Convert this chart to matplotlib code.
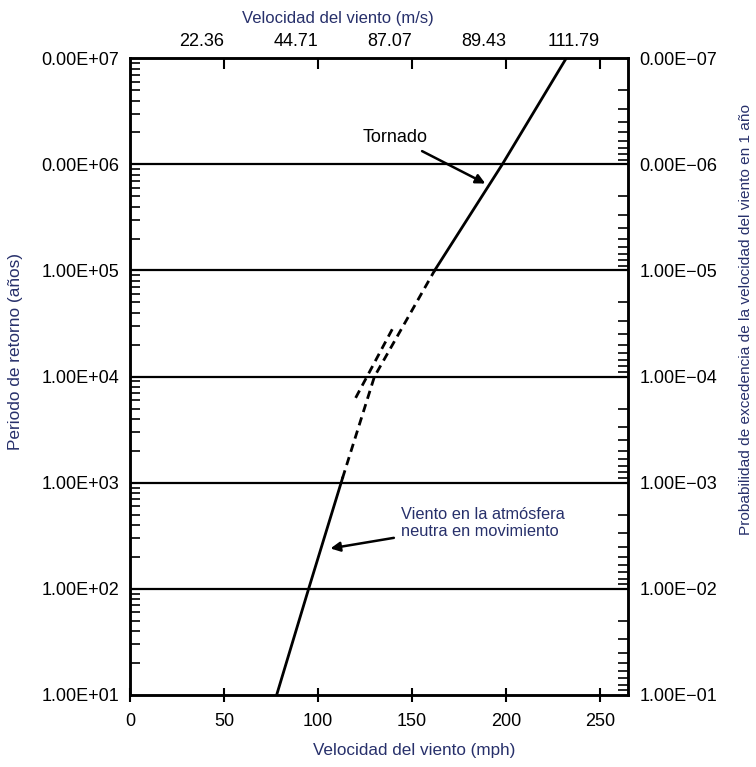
import matplotlib.pyplot as plt
import numpy as np
from matplotlib.ticker import LogLocator, FixedLocator, FixedFormatter, NullFormatter

plt.rcParams['font.family'] = ['Liberation Sans', 'DejaVu Sans']

# wind speed (mph) vs return period (years)
neutral_mph = [78, 95, 113]
neutral_years = [1e1, 1e2, 1.1e3]
trans_mph = [113, 130, 162]
trans_years = [1.1e3, 1e4, 1e5]
branch_mph = [120, 139.5]
branch_years = [6.3e3, 2.8e4]
tornado_mph = [162, 198, 232]
tornado_years = [1e5, 1e6, 1e7]

decades = [1e1, 1e2, 1e3, 1e4, 1e5, 1e6, 1e7]
left_labels = ['1.00E+01', '1.00E+02', '1.00E+03', '1.00E+04',
               '1.00E+05', '0.00E+06', '0.00E+07']
probs = [1e-1, 1e-2, 1e-3, 1e-4, 1e-5, 1e-6, 1e-7]
right_labels = ['1.00E\u221201', '1.00E\u221202', '1.00E\u221203', '1.00E\u221204',
                '1.00E\u221205', '0.00E\u221206', '0.00E\u221207']
mph_ticks = [0, 50, 100, 150, 200, 250]
ms_ticks = [50, 100, 150, 200, 250]
ms_labels = ['22.36', '44.71', '87.07', '89.43', '111.79']

title_color = '#27306b'

fig = plt.figure(figsize=(7.56, 7.67), dpi=100)
ax = fig.add_axes([0.172, 0.094, 0.659, 0.830])

ax.set_yscale('log')
ax.set_xlim(0, 265)
ax.set_ylim(1e1, 1e7)

# horizontal decade lines
for d in decades[1:-1]:
    ax.axhline(d, color='black', lw=1.6)

ax.plot(neutral_mph, neutral_years, color='black', lw=2)
ax.plot(trans_mph, trans_years, color='black', lw=2, linestyle=(0, (3, 2)))
ax.plot(branch_mph, branch_years, color='black', lw=2, linestyle=(0, (3, 2)))
ax.plot(tornado_mph, tornado_years, color='black', lw=2)

ax.annotate('Tornado', xy=(189, 6.6e5), xytext=(141, 1.8e6),
            ha='center', va='center', fontsize=13, color='black',
            arrowprops=dict(arrowstyle='-|>', color='black', lw=1.8,
                            mutation_scale=14, shrinkA=4, shrinkB=0))
ax.annotate('Viento en la atmósfera\nneutra en movimiento', xy=(106.6, 240),
            xytext=(144, 417), ha='left', va='center', fontsize=11.8,
            color=title_color, linespacing=1.15,
            arrowprops=dict(arrowstyle='-|>', color='black', lw=1.8,
                            mutation_scale=14, shrinkA=3, shrinkB=0))

for s in ax.spines.values():
    s.set_linewidth(1.8)

# left axis
ax.yaxis.set_major_locator(FixedLocator(decades))
ax.yaxis.set_major_formatter(FixedFormatter(left_labels))
ax.yaxis.set_minor_locator(LogLocator(base=10, subs=np.arange(2, 10)))
ax.yaxis.set_minor_formatter(NullFormatter())
ax.tick_params(axis='y', which='major', direction='in', length=0, pad=8, labelsize=13)
ax.tick_params(axis='y', which='minor', direction='in', length=7, width=1.2)
ax.set_ylabel('Periodo de retorno (años)', color=title_color, fontsize=12.4)
ax.yaxis.set_label_coords(-0.215, 0.54)

# bottom axis
ax.set_xticks(mph_ticks)
ax.tick_params(axis='x', direction='inout', length=10, width=1.5, pad=8, labelsize=13)
ax.set_xlabel('Velocidad del viento (mph)', color=title_color, fontsize=12.3, labelpad=10)
ax.xaxis.set_label_coords(0.57, -0.075)

# top axis (m/s)
top = ax.secondary_xaxis('top')
top.set_xticks(ms_ticks)
top.set_xticklabels(ms_labels, ha='right')
top.tick_params(direction='in', length=8, width=1.5, pad=6, labelsize=13)
top.set_xlabel('Velocidad del viento (m/s)', color=title_color, fontsize=12)
top.xaxis.set_label_coords(0.418, 1.056, transform=ax.transAxes)

# right axis (exceedance probability)
ax2 = ax.twinx()
ax2.set_yscale('log')
ax2.set_ylim(1e-1, 1e-7)
ax2.yaxis.set_major_locator(FixedLocator(probs))
ax2.yaxis.set_major_formatter(FixedFormatter(right_labels))
ax2.yaxis.set_minor_locator(LogLocator(base=10, subs=np.arange(2, 10)))
ax2.yaxis.set_minor_formatter(NullFormatter())
ax2.tick_params(axis='y', which='major', direction='in', length=0, pad=8, labelsize=13)
ax2.tick_params(axis='y', which='minor', direction='in', length=7, width=1.2)
ax2.set_ylabel('Probabilidad de excedencia de la velocidad del viento en 1 año',
               color=title_color, fontsize=11.1)
ax2.yaxis.set_label_coords(1.222, 0.59)
for s in ax2.spines.values():
    s.set_linewidth(1.8)

fig.savefig('out.png', dpi=100)
